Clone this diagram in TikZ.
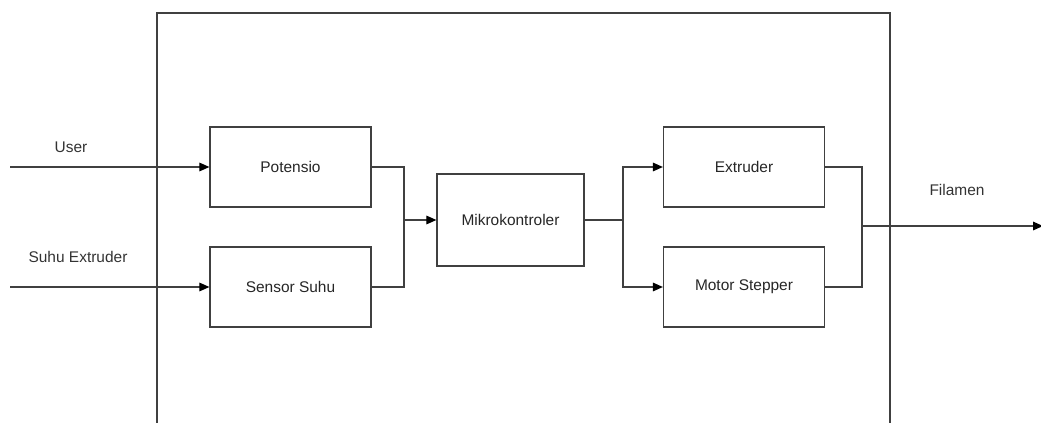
\documentclass[tikz,border=0pt]{standalone}
\usepackage{fontspec}
\setmainfont{Liberation Sans}
\usetikzlibrary{arrows.meta}
\begin{document}
\begin{tikzpicture}[x=0.03cm,y=-0.03cm,
  blk/.style={draw=black!75,line width=1.1pt,minimum width=161*0.03cm,minimum height=80*0.03cm,inner sep=0pt,font=\fontsize{13.2}{15}\selectfont,text=black!85},
  conn/.style={draw=black!75,line width=0.9pt},
  arr/.style={conn,-{Triangle[length=3mm,width=2.6mm,color=black]}},
  lbl/.style={font=\fontsize{13.2}{15}\selectfont,text=black!80,inner sep=0pt}]
\useasboundingbox (0,0) rectangle (1041,423);
% outer frame
\draw[draw=black!75,line width=1.1pt] (157,423) -- (157,13) -- (890,13) -- (890,423);
% blocks
\node[blk] (pot) at (290.5,167) {Potensio};
\node[blk] (sens) at (290.5,287) {Sensor Suhu};
\node[blk,minimum width=147*0.03cm,minimum height=92*0.03cm] (mcu) at (510.5,220) {Mikrokontroler};
\node[blk] (ext) at (744,167) {Extruder};
\node[blk] (mot) at (744,287) {Motor Stepper};
% inputs
\coordinate (uin) at (10,167);
\coordinate (sin) at (10,287);
\draw[arr] (uin) -- (pot.west);
\draw[arr] (sin) -- (sens.west);
\node[lbl] (ulbl) at (71,147) {User};
\node[lbl] (slbl) at (78,257) {Suhu Extruder};
% merge to MCU
\coordinate (m1) at (404,220);
\draw[conn] (pot.east) -| (m1) |- (sens.east);
\draw[arr] (m1) -- (mcu.west);
% split from MCU
\coordinate (s1) at (623,220);
\draw[conn] (mcu.east) -- (s1);
\draw[arr] (s1) |- (ext.west);
\draw[arr] (s1) |- (mot.west);
% output
\coordinate (o1) at (862,226);
\coordinate (oout) at (1043,226);
\draw[conn] (ext.east) -| (o1) |- (mot.east);
\draw[arr] (o1) -- (oout);
\node[lbl] (flbl) at (957,190) {Filamen};
\end{tikzpicture}
\end{document}
